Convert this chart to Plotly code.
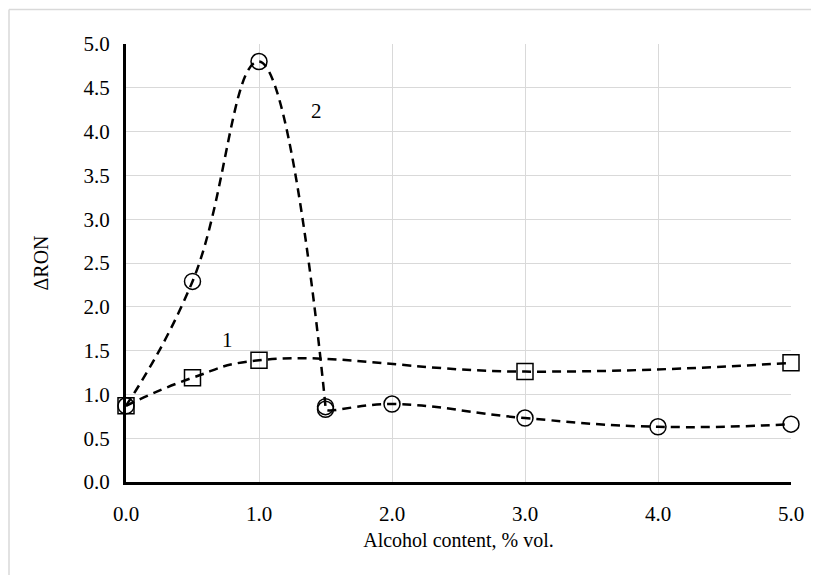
import plotly.graph_objects as go

# Series 1 (squares)
x1 = [0.0, 0.5, 1.0, 3.0, 5.0]
y1 = [0.87, 1.19, 1.39, 1.26, 1.36]

# Series 2 (circles)
x2 = [0.0, 0.5, 1.0, 1.5, 1.5, 2.0, 3.0, 4.0, 5.0]
y2 = [0.87, 2.29, 4.80, 0.86, 0.83, 0.89, 0.73, 0.63, 0.66]

labels = ["1", "2"]
label_x = [0.76, 1.43]
label_y = [1.62, 4.24]

x_ticks = [0, 1, 2, 3, 4, 5]
x_ticktext = ["0.0", "1.0", "2.0", "3.0", "4.0", "5.0"]
y_ticks = [0, 0.5, 1, 1.5, 2, 2.5, 3, 3.5, 4, 4.5, 5]
y_ticktext = ["0.0", "0.5", "1.0", "1.5", "2.0", "2.5", "3.0", "3.5", "4.0", "4.5", "5.0"]

FONT = "Liberation Serif"

# figure is offset by the page's 8px body margin; keep it inside the window
W, H = 811, 568
L, R, T, B = 118, 28, 35.5, 94
PW, PH = W - L - R, H - T - B

fig = go.Figure()
fig.add_trace(go.Scatter(
    x=x1, y=y1, mode="lines+markers",
    line=dict(color="black", width=2.5, dash="9px,6px", shape="spline", smoothing=1.3),
    marker=dict(symbol="square-open", size=16, color="black", line=dict(width=1.5)),
    cliponaxis=False, showlegend=False))
fig.add_trace(go.Scatter(
    x=x2, y=y2, mode="lines+markers",
    line=dict(color="black", width=2.5, dash="9px,6px", shape="spline", smoothing=1.3),
    marker=dict(symbol="circle-open", size=16, color="black", line=dict(width=1.5)),
    cliponaxis=False, showlegend=False))

for t, xx, yy in zip(labels, label_x, label_y):
    fig.add_annotation(x=xx, y=yy, text=t, showarrow=False,
                       font=dict(family=FONT, size=21, color="black"))

# outer chart border: top edge and left edge only
bx0 = (1 - L) / PW
by1 = 1 + (T - 1) / PH
fig.add_shape(type="line", xref="paper", yref="paper",
              x0=bx0, x1=1 + (R - 1) / PW, y0=by1, y1=by1,
              line=dict(color="#d9d9d9", width=1.5), layer="below")
fig.add_shape(type="line", xref="paper", yref="paper",
              x0=bx0, x1=bx0, y0=by1, y1=-(B - 1) / PH,
              line=dict(color="#d9d9d9", width=1.5), layer="below")

fig.update_layout(
    width=W, height=H,
    margin=dict(l=L, r=R, t=T, b=B),
    paper_bgcolor="white", plot_bgcolor="white",
    font=dict(family=FONT, size=20, color="black"),
    xaxis=dict(range=[0, 5], tickvals=x_ticks, ticktext=x_ticktext,
               showgrid=True, gridcolor="#d9d9d9", gridwidth=1,
               showline=True, linecolor="black", linewidth=3,
               zeroline=False, ticks="", ticklen=0, ticklabelstandoff=11,
               title=dict(text="Alcohol content, % vol.", standoff=8,
                          font=dict(family=FONT, size=20)),
               tickfont=dict(family=FONT, size=21)),
    yaxis=dict(range=[0, 5], tickvals=y_ticks, ticktext=y_ticktext,
               showgrid=True, gridcolor="#d9d9d9", gridwidth=1,
               showline=True, linecolor="black", linewidth=3,
               zeroline=False, ticks="", ticklen=0, ticklabelstandoff=9,
               title=dict(text="ΔRON", standoff=30,
                          font=dict(family=FONT, size=20)),
               tickfont=dict(family=FONT, size=21)),
)

fig.write_html("out.html")
